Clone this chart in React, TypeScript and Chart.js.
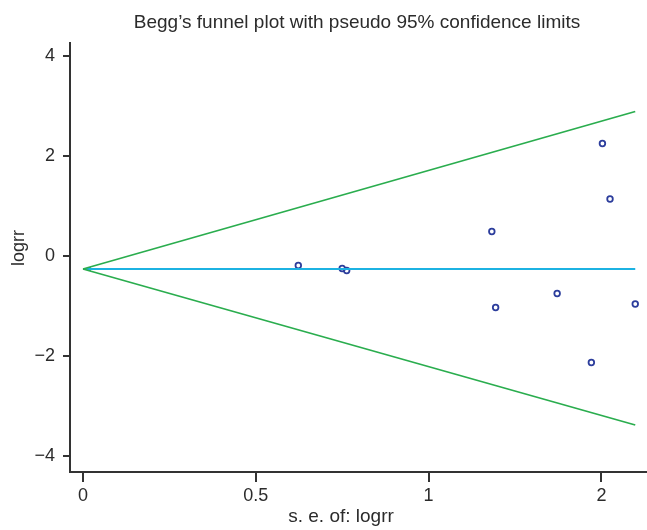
import React, { useEffect, useRef } from "react";
import { Chart, registerables } from "chart.js";

Chart.register(...registerables);

// ---- Data ----
const studySE = [0.623, 0.75, 0.763, 1.183, 1.194, 1.372, 1.471, 1.503, 1.525, 1.598];
const studyLogRR = [-0.19, -0.25, -0.29, 0.49, -1.03, -0.75, -2.13, 2.25, 1.14, -0.96];

const limitSE = [0, 1.598];
const upperLimit = [-0.26, 2.89];
const lowerLimit = [-0.26, -3.38];
const pooledLine = [-0.26, -0.26];

const pooledMarkerSE = [0.018];
const pooledMarkerY = [-0.26];

const xTickValues = [0, 0.5, 1, 1.5];
const xTickLabels = ["0", "0.5", "1", "2"];
const yTickValues = [-4, -2, 0, 2, 4];
const yTickLabels = ["\u22124", "\u22122", "0", "2", "4"];

const titleText = "Begg\u2019s funnel plot with pseudo 95% confidence limits";
const xTitleText = "s. e. of: logrr";
const yTitleText = "logrr";

const FONT = '"Liberation Sans", Arial, Helvetica, sans-serif';
const TEXT = "#2b2b2b";
const AXIS = "#333333";
const GREEN = "#2aad4e";
const CYAN = "#1cb2e2";
const NAVY = "#2c3d9c";

const pts = (xs: number[], ys: number[]) => xs.map((x, i) => ({ x, y: ys[i] }));

const titlesPlugin = {
  id: "titlesPlugin",
  afterDraw(chart: any) {
    const ctx = chart.ctx;
    ctx.save();
    ctx.fillStyle = TEXT;
    ctx.textAlign = "center";
    ctx.textBaseline = "middle";
    ctx.font = `19px ${FONT}`;
    ctx.fillText(titleText, 357, 23);
    ctx.fillText(xTitleText, 341, 517);
    ctx.font = `18px ${FONT}`;
    ctx.translate(19, 248);
    ctx.rotate(-Math.PI / 2);
    ctx.fillText(yTitleText, 0, 0);
    ctx.restore();
  },
};

export default function App() {
  const ref = useRef<HTMLCanvasElement | null>(null);

  useEffect(() => {
    if (!ref.current) return;
    const chart = new Chart(ref.current, {
      type: "scatter",
      data: {
        datasets: [
          {
            type: "line",
            data: pts(limitSE, upperLimit),
            borderColor: GREEN,
            borderWidth: 1.8,
            pointRadius: 0,
            fill: false,
          },
          {
            type: "line",
            data: pts(limitSE, lowerLimit),
            borderColor: GREEN,
            borderWidth: 1.8,
            pointRadius: 0,
            fill: false,
          },
          {
            type: "line",
            data: pts(limitSE, pooledLine),
            borderColor: CYAN,
            borderWidth: 2,
            pointRadius: 0,
            fill: false,
          },
          {
            data: pts(pooledMarkerSE, pooledMarkerY),
            pointRadius: 2.5,
            pointStyle: "rect",
            backgroundColor: "#1f9a52",
            borderColor: "#1f9a52",
            borderWidth: 0,
          },
          {
            data: pts(studySE, studyLogRR),
            pointRadius: 2.8,
            pointBorderWidth: 1.8,
            borderColor: NAVY,
            backgroundColor: "rgba(255,255,255,0)",
          },
        ],
      } as any,
      options: {
        responsive: false,
        animation: false,
        devicePixelRatio: 1,
        layout: { autoPadding: false, padding: { top: 43, left: 0, right: 0, bottom: 0 } },
        plugins: {
          legend: { display: false },
          title: { display: false },
          tooltip: { enabled: false },
        },
        scales: {
          x: {
            type: "linear",
            min: -0.0376,
            max: 1.632,
            afterFit(scale: any) {
              scale.height = 58;
              scale.paddingLeft = 0;
              scale.paddingRight = 0;
            },
            afterBuildTicks(scale: any) {
              scale.ticks = xTickValues.map((v) => ({ value: v }));
            },
            ticks: {
              autoSkip: false,
              maxRotation: 0,
              padding: 3,
              color: TEXT,
              font: { family: FONT, size: 18 },
              callback: (_v: any, i: number) => xTickLabels[i],
            },
            grid: {
              drawOnChartArea: false,
              drawTicks: true,
              tickLength: 10,
              color: AXIS,
              lineWidth: 2,
            },
            border: { display: true, color: AXIS, width: 2 },
          },
          y: {
            type: "linear",
            min: -4.32,
            max: 4.26,
            afterFit(scale: any) {
              scale.width = 70;
              scale.paddingTop = 0;
              scale.paddingBottom = 0;
            },
            afterBuildTicks(scale: any) {
              scale.ticks = yTickValues.map((v) => ({ value: v }));
            },
            ticks: {
              autoSkip: false,
              padding: 8,
              color: TEXT,
              font: { family: FONT, size: 18 },
              callback: (_v: any, i: number) => yTickLabels[i],
            },
            grid: {
              drawOnChartArea: false,
              drawTicks: true,
              tickLength: 7,
              color: AXIS,
              lineWidth: 2,
            },
            border: { display: true, color: AXIS, width: 2 },
          },
        },
      } as any,
      plugins: [titlesPlugin],
    });
    return () => chart.destroy();
  }, []);

  return (
    <div style={{ position: "absolute", left: 0, top: 0, width: 647, height: 530, background: "#fff" }}>
      <canvas ref={ref} width={647} height={530} style={{ display: "block" }} />
    </div>
  );
}
